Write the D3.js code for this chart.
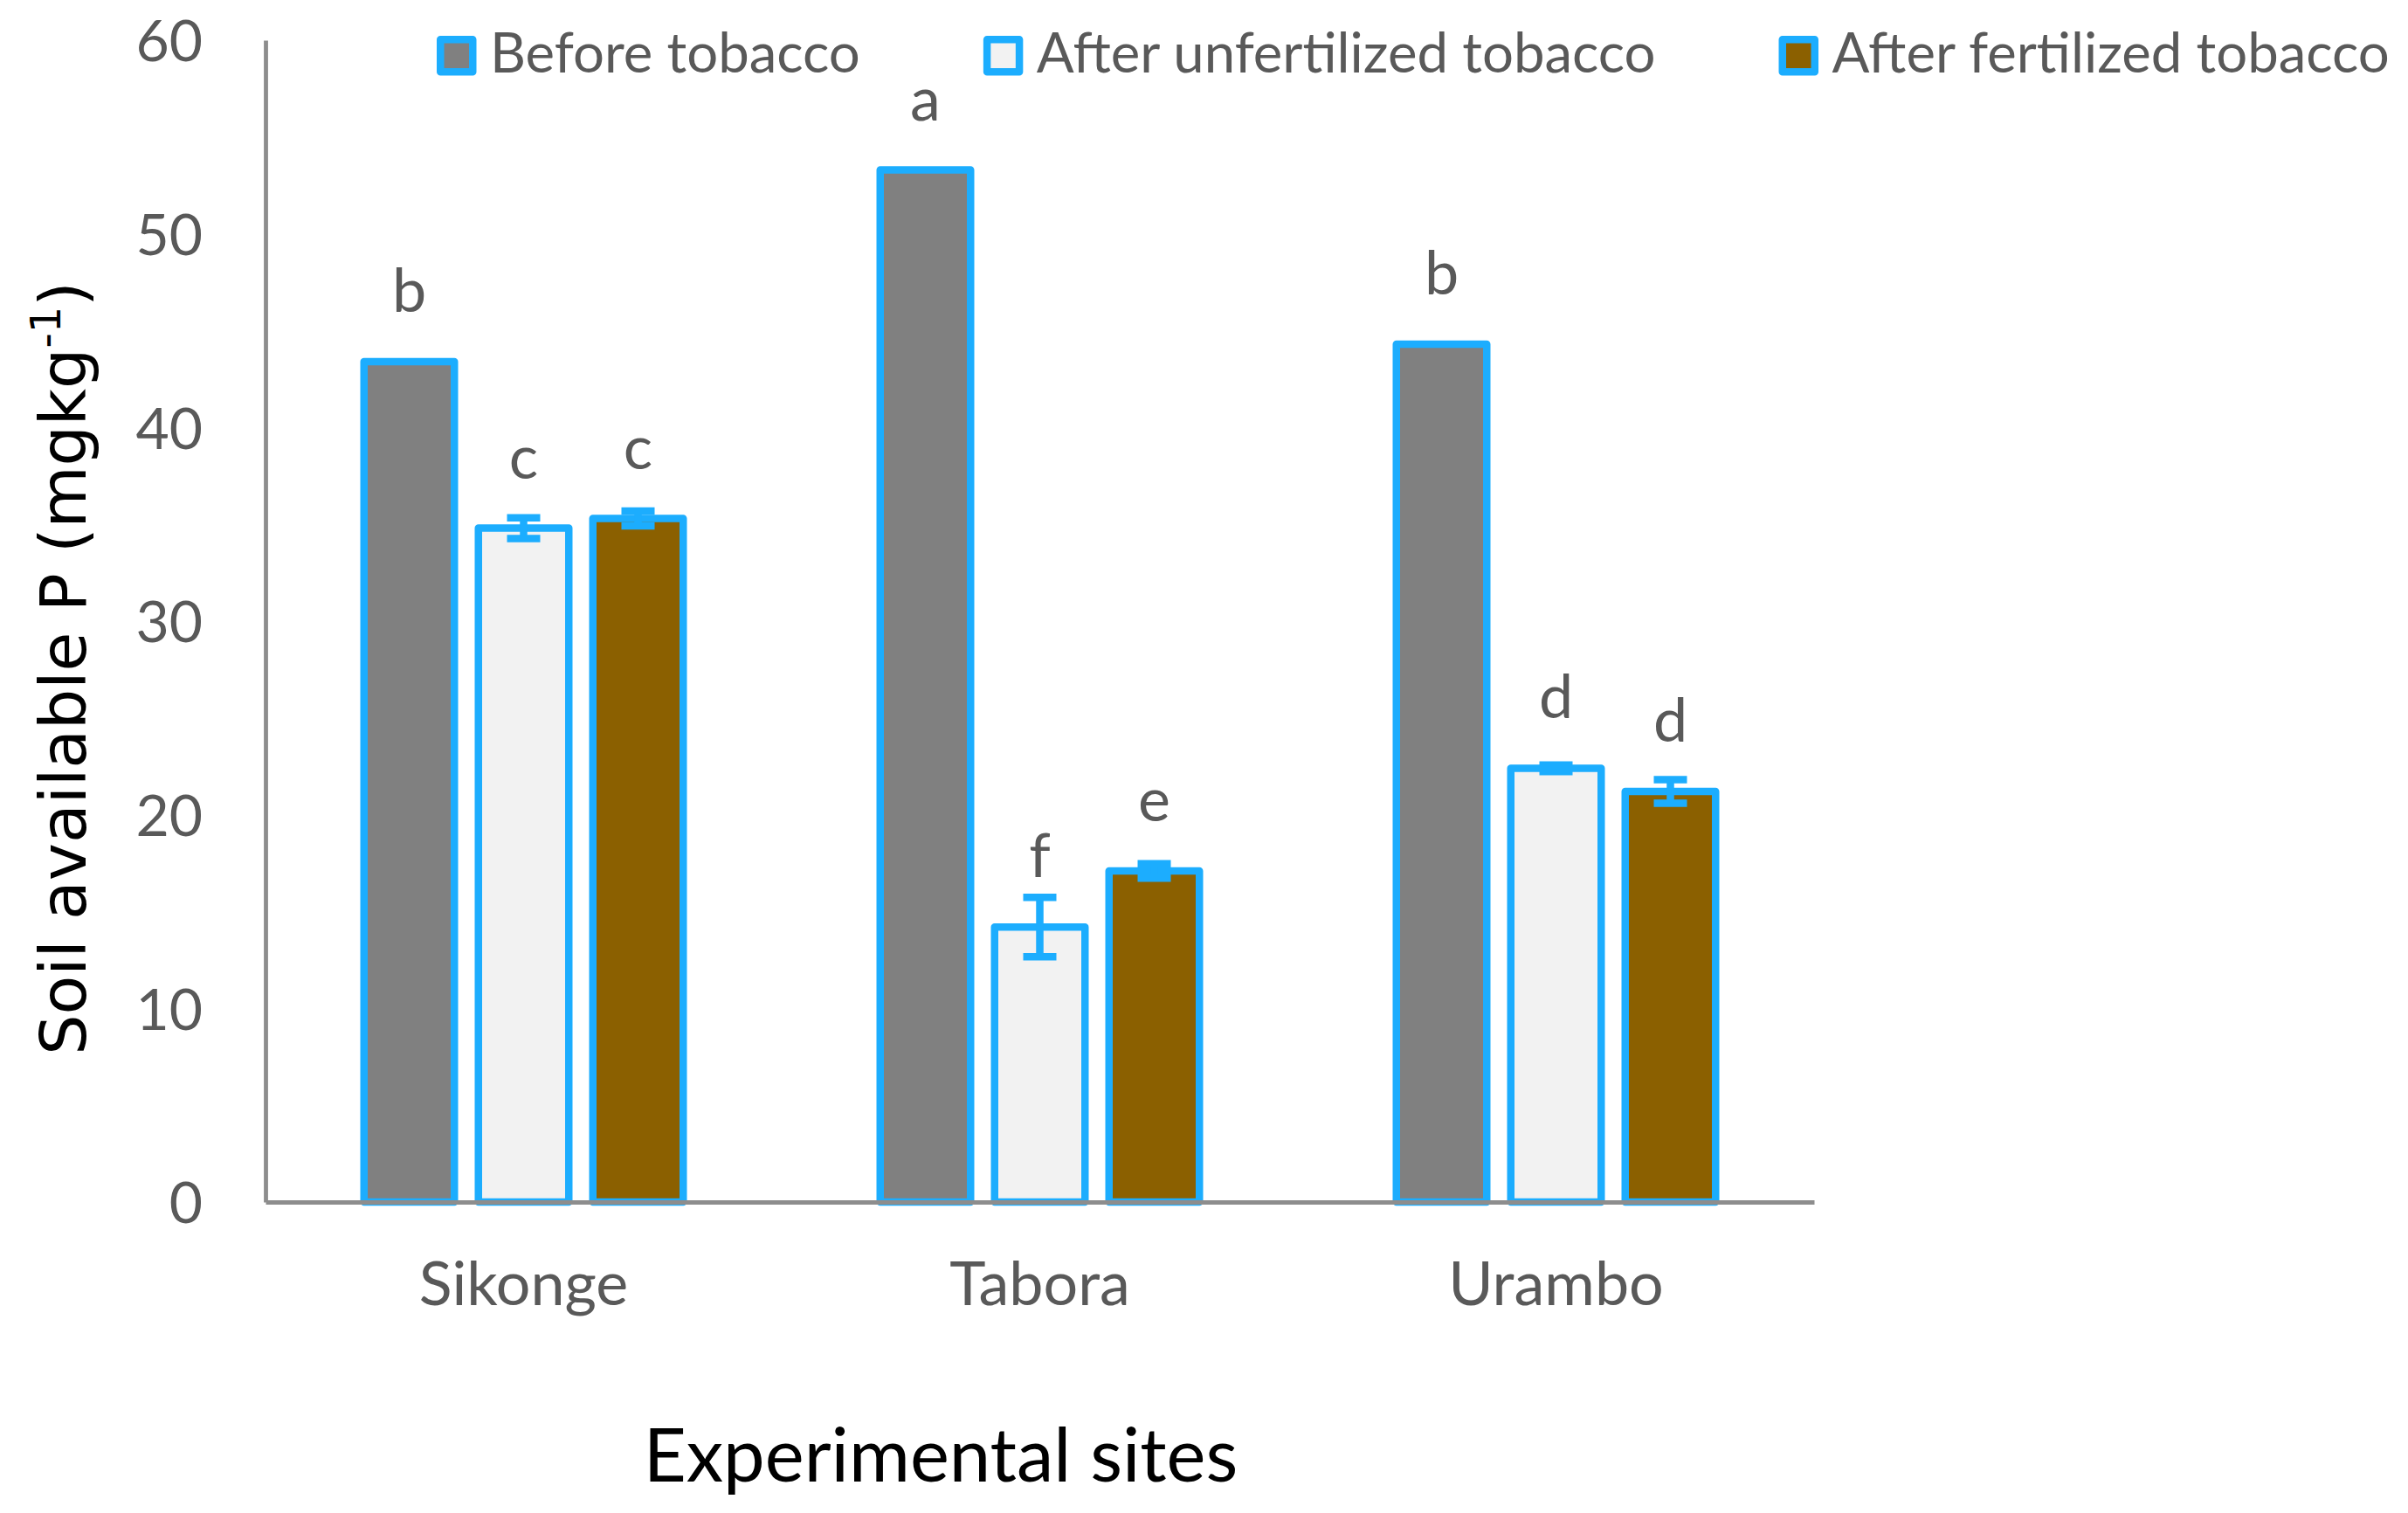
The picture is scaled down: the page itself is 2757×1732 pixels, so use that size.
<!DOCTYPE html>
<html>
<head>
<meta charset="utf-8">
<script src="https://cdn.jsdelivr.net/npm/d3@7"></script>
<style>
  body { margin: 0; background: #fff; }
  text { font-family: Lato, 'Open Sans', sans-serif; }
</style>
</head>
<body>
<div id="chart"></div>
<script>
var sites = ['Sikonge', 'Tabora', 'Urambo'];
var seriesNames = ['Before tobacco', 'After unfertilized tobacco', 'After fertilized tobacco'];

var beforeTobacco = [43.4, 53.3, 44.3];
var afterUnfertilized = [34.8, 14.2, 22.4];
var afterFertilized = [35.3, 17.1, 21.2];

var beforeErr = [0, 0, 0];
var unfertilizedErr = [0.54, 1.53, 0.17];
var fertilizedErr = [0.38, 0.37, 0.61];

var beforeLetters = ['b', 'a', 'b'];
var unfertilizedLetters = ['c', 'f', 'd'];
var fertilizedLetters = ['c', 'e', 'd'];

var yTicks = [0, 10, 20, 30, 40, 50, 60];

var fills = ['#808080', '#f2f2f2', '#8b6000'];
var edge = '#1cadfe';
var axisGrey = '#8d8d8d';
var labelGrey = '#595959';

var W = 2757, H = 1732;
var plot = { left: 304, right: 2077, top: 46, bottom: 1376 };

var svg = d3.select('#chart').append('svg')
    .attr('width', W)
    .attr('height', H);

svg.append('rect')
    .attr('width', W)
    .attr('height', H)
    .attr('fill', '#fff');

var y = d3.scaleLinear()
    .domain([0, 60])
    .range([plot.bottom, plot.top]);

var x0 = d3.scaleBand()
    .domain(sites)
    .range([plot.left, plot.right]);

// three bars per site, 131px apart, centred in the band
var x1 = d3.scaleBand()
    .domain(seriesNames)
    .range([0, 393]);

var barWidth = 103.5;
var groupOffset = (x0.bandwidth() - x1.range()[1]) / 2;

var rows = [];
var seriesValues = [beforeTobacco, afterUnfertilized, afterFertilized];
var seriesErr = [beforeErr, unfertilizedErr, fertilizedErr];
var seriesLetters = [beforeLetters, unfertilizedLetters, fertilizedLetters];

sites.forEach(function (site, i) {
  seriesNames.forEach(function (name, j) {
    rows.push({
      site: site,
      series: name,
      idx: j,
      value: seriesValues[j][i],
      err: seriesErr[j][i],
      letter: seriesLetters[j][i]
    });
  });
});

var barCenter = function (d) {
  return x0(d.site) + groupOffset + x1(d.series) + x1.bandwidth() / 2;
};

// bars
svg.append('g')
  .selectAll('rect')
  .data(rows)
  .enter()
  .append('rect')
  .attr('x', function (d) { return barCenter(d) - barWidth / 2; })
  .attr('y', function (d) { return y(d.value); })
  .attr('width', barWidth)
  .attr('height', function (d) { return y(0) - y(d.value); })
  .attr('fill', function (d) { return fills[d.idx]; })
  .attr('stroke', edge)
  .attr('stroke-width', 8.5)
  .attr('stroke-linejoin', 'round');

// error bars
var errRows = rows.filter(function (d) { return d.err > 0; });
var errG = svg.append('g')
    .attr('stroke', edge)
    .attr('stroke-width', 8.5);

errG.selectAll('.stem')
  .data(errRows)
  .enter()
  .append('line')
  .attr('x1', barCenter)
  .attr('x2', barCenter)
  .attr('y1', function (d) { return y(d.value + d.err); })
  .attr('y2', function (d) { return y(d.value - d.err); });

[1, -1].forEach(function (sign) {
  errG.selectAll('.cap' + sign)
    .data(errRows)
    .enter()
    .append('line')
    .attr('x1', function (d) { return barCenter(d) - 19; })
    .attr('x2', function (d) { return barCenter(d) + 19; })
    .attr('y1', function (d) { return y(d.value + sign * d.err); })
    .attr('y2', function (d) { return y(d.value + sign * d.err); });
});

// significance letters
svg.append('g')
  .selectAll('text')
  .data(rows)
  .enter()
  .append('text')
  .attr('x', barCenter)
  .attr('y', function (d) { return y(d.value) - 57; })
  .attr('text-anchor', 'middle')
  .attr('fill', labelGrey)
  .style('font-size', '70px')
  .text(function (d) { return d.letter; });

// axes
var yAxis = d3.axisLeft(y)
    .tickValues(yTicks)
    .tickSize(0)
    .tickPadding(72)
    .tickFormat(d3.format('d'));

var yG = svg.append('g')
    .attr('transform', 'translate(' + plot.left + ',0)')
    .call(yAxis);

yG.select('.domain')
    .attr('stroke', axisGrey)
    .attr('stroke-width', 4.8);

yG.selectAll('text')
    .attr('fill', labelGrey)
    .attr('dy', '0.36em')
    .style('font-size', '66px')
    .style('font-family', 'Lato, sans-serif');

var xAxis = d3.axisBottom(x0)
    .tickSize(0)
    .tickPadding(0);

var xG = svg.append('g')
    .attr('transform', 'translate(0,' + plot.bottom + ')')
    .call(xAxis);

xG.select('.domain')
    .attr('stroke', axisGrey)
    .attr('stroke-width', 4.8);

xG.selectAll('text')
    .attr('fill', labelGrey)
    .attr('y', 118)
    .attr('dy', 0)
    .style('font-size', '70px')
    .style('font-family', 'Lato, sans-serif');

// axis titles
svg.append('text')
    .attr('x', 1077)
    .attr('y', 1696)
    .attr('text-anchor', 'middle')
    .attr('fill', '#000')
    .style('font-size', '85px')
    .text('Experimental sites');

var yTitle = svg.append('text')
    .attr('transform', 'translate(98,765) rotate(-90)')
    .attr('text-anchor', 'middle')
    .attr('fill', '#000')
    .style('font-family', "'DejaVu Sans', sans-serif")
    .style('font-size', '73px');

yTitle.append('tspan').text('Soil available P (mgkg');
yTitle.append('tspan')
    .attr('dy', -29)
    .style('font-size', '48px')
    .text('-1');
yTitle.append('tspan')
    .attr('dy', 29)
    .text(')');

// legend
var legend = svg.append('g');
var lx = 500;
seriesNames.forEach(function (name, j) {
  legend.append('rect')
    .attr('x', lx + 4.25)
    .attr('y', 41 + 4.25)
    .attr('width', 37)
    .attr('height', 37)
    .attr('fill', fills[j])
    .attr('stroke', edge)
    .attr('stroke-width', 8.5)
    .attr('stroke-linejoin', 'round');
  var t = legend.append('text')
    .attr('x', lx + 61)
    .attr('y', 83)
    .attr('fill', labelGrey)
    .style('font-size', '63.5px')
    .text(name);
  lx = lx + 61 + t.node().getComputedTextLength() + 141;
});
</script>
</body>
</html>
